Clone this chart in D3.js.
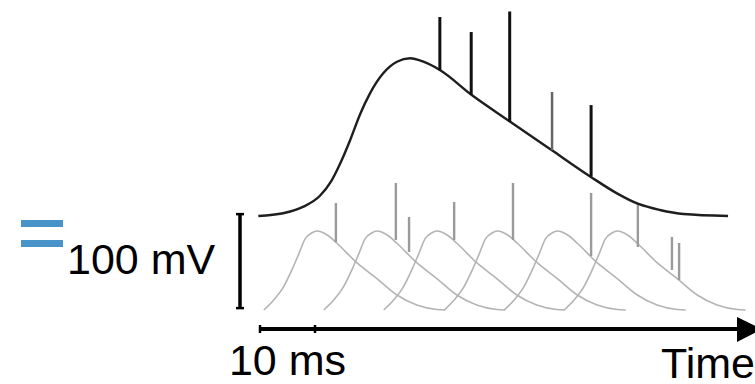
<!DOCTYPE html>
<html>
<head>
<meta charset="utf-8">
<script src="https://cdn.jsdelivr.net/npm/d3@7"></script>
<style>
  body { margin: 0; background: #fff; }
  svg { display: block; }
  text { font-family: "Liberation Sans", Arial, Helvetica, sans-serif; fill: #000; }
</style>
</head>
<body>
<div id="chart"></div>
<script>
// summed potential (ms, mV)
const sumTimes = [-0.3, 4.2, 7.9, 10.9, 12.9, 14.6, 16.4, 18.2, 20.0, 22.4, 24.9, 27.3, 29.7, 32.7, 38.5, 45.5, 53.0, 60.1, 64.9, 68.8, 72.7, 77.0, 85.1];
const sumValues = [100, 102.9, 109.9, 121.5, 136.5, 156.1, 180.9, 208.3, 230.5, 251.8, 264.1, 267.8, 264.1, 255.3, 228.7, 200.3, 170.2, 141.8, 124.1, 112.8, 106.4, 102.1, 100];

// spikes riding on the summed potential
const sumSpikeTimes = [32.7, 38.4, 45.4, 53.1, 60.2];
const sumSpikeBase = [255, 229, 200, 170, 142];
const sumSpikeTop = [311.7, 295.7, 317.6, 231.9, 218];
const sumSpikeDark = [true, true, true, false, true];

// single PSP shape, relative to onset (ms, mV)
const pspTimes = [0, 1.8, 3.6, 5.1, 6.4, 7.5, 8.7, 9.6, 10.5, 11.8, 13.3, 16.9, 20.5, 24.2, 27.8, 31.5, 33];
const pspValues = [0, 10.6, 24.8, 42.6, 60.3, 75.6, 81.9, 84, 83, 78.7, 71, 50.3, 33.7, 16, 5.3, 0.5, 0];
const pspOnsets = [0.7, 11.6, 22.5, 33.5, 44.4, 55.3];

// input spikes on the individual PSPs
const inSpikeTimes = [13.8, 24.7, 27.1, 35.3, 46.0, 60.2, 68.7, 74.9, 76.2];
const inSpikeBase = [72.3, 74.5, 61.7, 74.5, 74.5, 57.4, 67, 42.6, 31.9];
const inSpikeTop = [113.8, 135.1, 98.9, 114.9, 135.1, 124.5, 112.8, 77.7, 71.3];

const scaleBarMs = 10;
const scaleBarMV = 100;

const width = 755;
const height = 384;

const svg = d3.select('#chart').append('svg')
    .attr('width', width)
    .attr('height', height);

const xScale = d3.scaleLinear()
    .domain([0, 90])
    .range([260, 755]);

const yScale = d3.scaleLinear()
    .domain([0, 100])
    .range([310, 216]);

const line = d3.line()
    .x(d => xScale(d[0]))
    .y(d => yScale(d[1]))
    .curve(d3.curveMonotoneX);

// individual PSPs
svg.append('g')
  .selectAll('path')
  .data(pspOnsets)
  .enter()
  .append('path')
    .attr('d', t0 => line(pspTimes.map((t, i) => [t0 + t, pspValues[i]])))
    .attr('fill', 'none')
    .attr('stroke', '#b4b4b4')
    .attr('stroke-width', 1.6);

svg.append('g')
  .selectAll('line')
  .data(inSpikeTimes)
  .enter()
  .append('line')
    .attr('x1', d => xScale(d))
    .attr('x2', d => xScale(d))
    .attr('y1', (d, i) => yScale(inSpikeBase[i]))
    .attr('y2', (d, i) => yScale(inSpikeTop[i]))
    .attr('stroke', '#9a9a9a')
    .attr('stroke-width', 2.4);

// summed potential
svg.append('path')
    .attr('d', line(sumTimes.map((t, i) => [t, sumValues[i]])))
    .attr('fill', 'none')
    .attr('stroke', '#1e1e1e')
    .attr('stroke-width', 2.4);

svg.append('g')
  .selectAll('line')
  .data(sumSpikeTimes)
  .enter()
  .append('line')
    .attr('x1', d => xScale(d))
    .attr('x2', d => xScale(d))
    .attr('y1', (d, i) => yScale(sumSpikeBase[i]))
    .attr('y2', (d, i) => yScale(sumSpikeTop[i]))
    .attr('stroke', (d, i) => sumSpikeDark[i] ? '#111' : '#666')
    .attr('stroke-width', (d, i) => sumSpikeDark[i] ? 3 : 2.5);

// time axis with arrow
const axisY = 329;
svg.append('line')
    .attr('x1', xScale(0))
    .attr('x2', 740)
    .attr('y1', axisY)
    .attr('y2', axisY)
    .attr('stroke', '#000')
    .attr('stroke-width', 4);

svg.append('path')
    .attr('d', 'M737,317 L762,' + axisY + ' L737,342 Z')
    .attr('fill', '#000');

svg.selectAll('.tick')
  .data([0, scaleBarMs])
  .enter()
  .append('line')
    .attr('class', 'tick')
    .attr('x1', d => xScale(d))
    .attr('x2', d => xScale(d))
    .attr('y1', axisY - 4)
    .attr('y2', axisY + 4)
    .attr('stroke', '#000')
    .attr('stroke-width', 2.5);

svg.append('text')
    .attr('x', (xScale(0) + xScale(scaleBarMs)) / 2)
    .attr('y', 375)
    .attr('text-anchor', 'middle')
    .style('font-size', '43px')
    .text(scaleBarMs + ' ms');

svg.append('text')
    .attr('x', 661)
    .attr('y', 378)
    .style('font-size', '43px')
    .text('Time');

// voltage scale bar
const barX = 240;
const barLow = yScale(2);
const barHigh = yScale(2 + scaleBarMV);
svg.append('line')
    .attr('x1', barX).attr('x2', barX)
    .attr('y1', barLow).attr('y2', barHigh)
    .attr('stroke', '#000')
    .attr('stroke-width', 3.5);
[barLow, barHigh].forEach(y => {
  svg.append('line')
      .attr('x1', barX - 4).attr('x2', barX + 4)
      .attr('y1', y).attr('y2', y)
      .attr('stroke', '#000')
      .attr('stroke-width', 2.5);
});

svg.append('text')
    .attr('x', 67)
    .attr('y', 274)
    .style('font-size', '43px')
    .text(scaleBarMV + ' mV');

// blue marks
svg.selectAll('.mark')
  .data([220, 240])
  .enter()
  .append('rect')
    .attr('class', 'mark')
    .attr('x', 21)
    .attr('y', d => d)
    .attr('width', 42)
    .attr('height', 7)
    .attr('fill', '#4893c8');
</script>
</body>
</html>
